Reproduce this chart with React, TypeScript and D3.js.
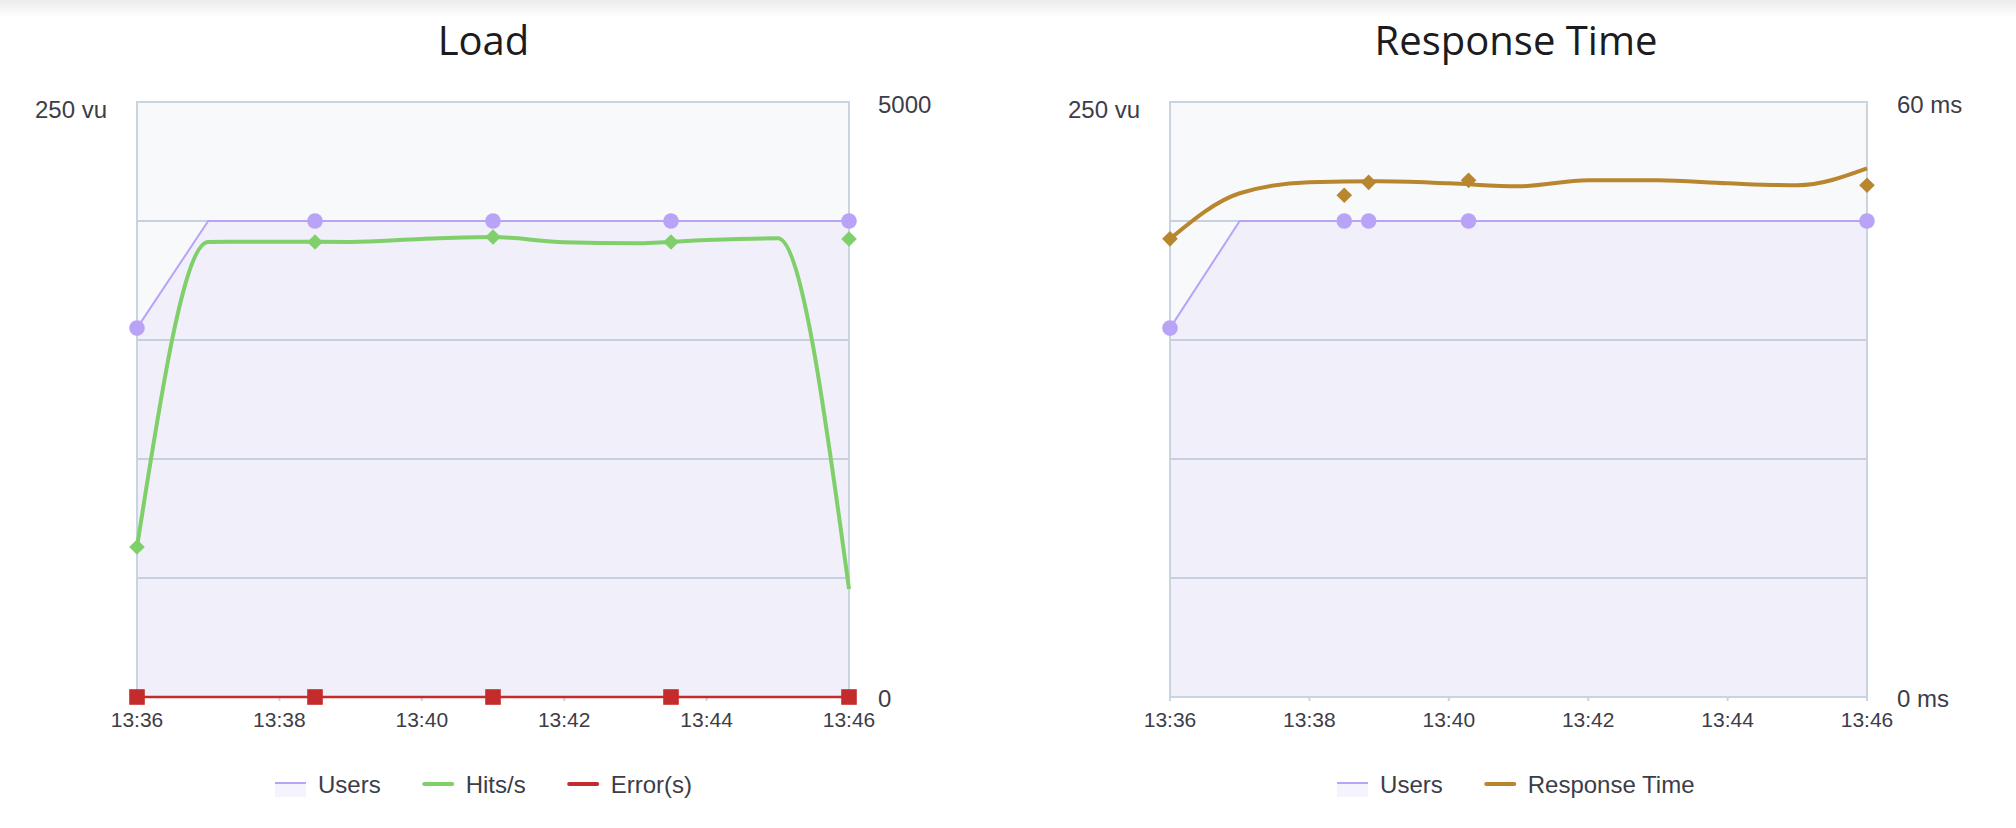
import React from 'react';
import * as d3 from 'd3';

// ---------- DATA ----------
const minuteTimes = ["13:36", "13:37", "13:38", "13:39", "13:40", "13:41", "13:42", "13:43", "13:44", "13:45", "13:46"];
const usersPerMinute = [155, 200, 200, 200, 200, 200, 200, 200, 200, 200, 200];
const hitsPerMinute = [1260, 3824, 3826, 3824, 3849, 3866, 3821, 3812, 3840, 3854, 907];
const errorsPerMinute = [0, 0, 0, 0, 0, 0, 0, 0, 0, 0, 0];
const responsePerMinute = [46.2, 50.8, 51.9, 52.0, 51.8, 51.5, 52.1, 52.1, 51.8, 51.6, 53.3];

const loadMarkerTimes = ["13:36:00", "13:38:30", "13:41:00", "13:43:30", "13:46:00"];
const loadUsersMarkers = [155, 200, 200, 200, 200];
const loadHitsMarkers = [1260, 3824, 3866, 3824, 3849];
const loadErrorMarkers = [0, 0, 0, 0, 0];

const rtMarkerTimes = ["13:36:00", "13:38:30", "13:38:51", "13:40:17", "13:46:00"];
const rtUsersMarkers = [155, 200, 200, 200, 200];
const rtResponseMarkers = [46.2, 50.6, 51.9, 52.1, 51.6];

const xTickLabels = ["13:36", "13:38", "13:40", "13:42", "13:44", "13:46"];
const usersAxisMax = 250;
const hitsAxisMax = 5000;
const responseAxisMax = 60;

// ---------- STYLE ----------
const W = 2016;
const H = 828;
const TOP = 102;
const BOTTOM = 697;
const TEXT = '#3d3d47';
const BORDER = '#c8d4e0';
const GRID = '#c6d0e1';
const PLOT_BG = '#f8f9fb';
const USERS_FILL = '#f1effa';
const USERS_COLOR = '#b9a3f7';
const HITS_COLOR = '#7fcf6b';
const ERR_COLOR = '#c42b2b';
const RT_COLOR = '#b8862e';
const FONT = "'Liberation Sans', Arial, sans-serif";
const TITLE_FONT = "'Open Sans', 'Noto Sans', sans-serif";

const parseMin = d3.timeParse('%H:%M');
const parseSec = d3.timeParse('%H:%M:%S');

function measure(text: string, font: string): number {
  const c = document.createElement('canvas').getContext('2d');
  if (!c) return text.length * 12;
  c.font = font;
  return c.measureText(text).width;
}

type LegendItem = { label: string; color: string; width: number; area?: boolean };

function Legend({ cx, items }: { cx: number; items: LegendItem[] }) {
  const font = `24px ${FONT}`;
  const sw = 31;
  const gap = 12;
  const spacing = 42;
  const widths = items.map((it) => sw + gap + measure(it.label, font));
  const total = d3.sum(widths) + spacing * (items.length - 1);
  let x = cx - total / 2;
  const y = 784;
  return (
    <g>
      {items.map((it, i) => {
        const x0 = x;
        x += widths[i] + spacing;
        return (
          <g key={it.label}>
            {it.area && <rect x={x0} y={y - 1} width={sw} height={14} fill="#f5f3fd" />}
            <line
              x1={x0 + (it.area ? 0 : 1.5)}
              x2={x0 + sw - (it.area ? 0 : 1.5)}
              y1={it.area ? y - 1 : y}
              y2={it.area ? y - 1 : y}
              stroke={it.color}
              strokeWidth={it.width}
              strokeLinecap={it.area ? 'butt' : 'round'}
            />
            <text x={x0 + sw + gap} y={793} fontFamily={FONT} fontSize={24} fill={TEXT}>
              {it.label}
            </text>
          </g>
        );
      })}
    </g>
  );
}

function diamondPath(cx: number, cy: number, r: number) {
  return `M${cx},${cy - r}L${cx + r},${cy}L${cx},${cy + r}L${cx - r},${cy}Z`;
}

function PlotFrame({
  x,
  yUsers,
  left,
  right,
}: {
  x: d3.ScaleTime<number, number>;
  yUsers: d3.ScaleLinear<number, number>;
  left: number;
  right: number;
}) {
  const minutes = minuteTimes.map((t) => parseMin(t) as Date);
  const area = d3
    .area<number>()
    .x((_, i) => x(minutes[i]))
    .y0(BOTTOM)
    .y1((d) => yUsers(d));
  const gridVals = d3.range(0, usersAxisMax + 1, 50);
  const ticks = xTickLabels.map((t) => parseMin(t) as Date);
  return (
    <g>
      <rect x={left} y={TOP} width={right - left} height={BOTTOM - TOP} fill={PLOT_BG} />
      <path d={area(usersPerMinute) || ''} fill={USERS_FILL} />
      {gridVals.map((v) => (
        <line key={v} x1={left} x2={right} y1={yUsers(v)} y2={yUsers(v)} stroke={GRID} strokeWidth={2} />
      ))}
      <rect x={left} y={TOP} width={right - left} height={BOTTOM - TOP} fill="none" stroke={BORDER} strokeWidth={2} />
      {ticks.map((t, i) => (
        <g key={i}>
          <line x1={x(t)} x2={x(t)} y1={BOTTOM} y2={BOTTOM + 4} stroke={BORDER} strokeWidth={2} />
          <text x={x(t)} y={727} textAnchor="middle" fontFamily={FONT} fontSize={21} fill={TEXT}>
            {xTickLabels[i]}
          </text>
        </g>
      ))}
    </g>
  );
}

function LoadChart() {
  const left = 137;
  const right = 849;
  const minutes = minuteTimes.map((t) => parseMin(t) as Date);
  const x = d3.scaleTime().domain([minutes[0], minutes[minutes.length - 1]]).range([left, right]);
  const yUsers = d3.scaleLinear().domain([0, usersAxisMax]).range([BOTTOM, TOP]);
  const yHits = d3.scaleLinear().domain([0, hitsAxisMax]).range([BOTTOM, TOP]);
  const usersLine = d3.line<number>().x((_, i) => x(minutes[i])).y((d) => yUsers(d));
  const hitsLine = d3.line<number>().x((_, i) => x(minutes[i])).y((d) => yHits(d)).curve(d3.curveMonotoneX);
  const errLine = d3.line<number>().x((_, i) => x(minutes[i])).y((d) => yHits(d));
  const mt = loadMarkerTimes.map((t) => parseSec(t) as Date);
  const cx = 483.5;
  return (
    <g>
      <text x={cx} y={55} textAnchor="middle" fontFamily={TITLE_FONT} fontSize={40} fill="#1b1b20">
        Load
      </text>
      <PlotFrame x={x} yUsers={yUsers} left={left} right={right} />
      <text x={left - 30} y={118} textAnchor="end" fontFamily={FONT} fontSize={24} fill={TEXT}>
        {`${usersAxisMax} vu`}
      </text>
      <text x={right + 29} y={113} fontFamily={FONT} fontSize={24} fill={TEXT}>
        {`${hitsAxisMax}`}
      </text>
      <text x={right + 29} y={707} fontFamily={FONT} fontSize={24} fill={TEXT}>
        0
      </text>
      <path d={usersLine(usersPerMinute) || ''} fill="none" stroke={USERS_COLOR} strokeWidth={2} />
      <path d={hitsLine(hitsPerMinute) || ''} fill="none" stroke={HITS_COLOR} strokeWidth={4} />
      <path d={errLine(errorsPerMinute) || ''} fill="none" stroke={ERR_COLOR} strokeWidth={2.5} />
      {mt.map((t, i) => (
        <circle key={'u' + i} cx={x(t)} cy={yUsers(loadUsersMarkers[i])} r={7.8} fill={USERS_COLOR} />
      ))}
      {mt.map((t, i) => (
        <path key={'h' + i} d={diamondPath(x(t), yHits(loadHitsMarkers[i]), 7.8)} fill={HITS_COLOR} />
      ))}
      {mt.map((t, i) => (
        <rect key={'e' + i} x={x(t) - 7.8} y={yHits(loadErrorMarkers[i]) - 7.8} width={15.6} height={15.6} fill={ERR_COLOR} />
      ))}
      <Legend
        cx={cx}
        items={[
          { label: 'Users', color: USERS_COLOR, width: 2, area: true },
          { label: 'Hits/s', color: HITS_COLOR, width: 4 },
          { label: 'Error(s)', color: ERR_COLOR, width: 4 },
        ]}
      />
    </g>
  );
}

function ResponseChart() {
  const left = 1170;
  const right = 1867;
  const minutes = minuteTimes.map((t) => parseMin(t) as Date);
  const x = d3.scaleTime().domain([minutes[0], minutes[minutes.length - 1]]).range([left, right]);
  const yUsers = d3.scaleLinear().domain([0, usersAxisMax]).range([BOTTOM, TOP]);
  const yRt = d3.scaleLinear().domain([0, responseAxisMax]).range([BOTTOM, TOP]);
  const usersLine = d3.line<number>().x((_, i) => x(minutes[i])).y((d) => yUsers(d));
  const rtLine = d3.line<number>().x((_, i) => x(minutes[i])).y((d) => yRt(d)).curve(d3.curveMonotoneX);
  const mt = rtMarkerTimes.map((t) => parseSec(t) as Date);
  const cx = 1516;
  return (
    <g>
      <text x={cx} y={55} textAnchor="middle" fontFamily={TITLE_FONT} fontSize={40} fill="#1b1b20">
        Response Time
      </text>
      <PlotFrame x={x} yUsers={yUsers} left={left} right={right} />
      <text x={left - 30} y={118} textAnchor="end" fontFamily={FONT} fontSize={24} fill={TEXT}>
        {`${usersAxisMax} vu`}
      </text>
      <text x={right + 30} y={113} fontFamily={FONT} fontSize={24} fill={TEXT}>
        {`${responseAxisMax} ms`}
      </text>
      <text x={right + 30} y={707} fontFamily={FONT} fontSize={24} fill={TEXT}>
        0 ms
      </text>
      <path d={usersLine(usersPerMinute) || ''} fill="none" stroke={USERS_COLOR} strokeWidth={2} />
      <path d={rtLine(responsePerMinute) || ''} fill="none" stroke={RT_COLOR} strokeWidth={4} />
      {mt.map((t, i) => (
        <circle key={'u' + i} cx={x(t)} cy={yUsers(rtUsersMarkers[i])} r={7.8} fill={USERS_COLOR} />
      ))}
      {mt.map((t, i) => (
        <path key={'r' + i} d={diamondPath(x(t), yRt(rtResponseMarkers[i]), 7.8)} fill={RT_COLOR} />
      ))}
      <Legend
        cx={cx}
        items={[
          { label: 'Users', color: USERS_COLOR, width: 2, area: true },
          { label: 'Response Time', color: RT_COLOR, width: 4 },
        ]}
      />
    </g>
  );
}

export default function App() {
  return (
    <svg
      width={W}
      height={H}
      viewBox={`0 0 ${W} ${H}`}
      style={{ position: 'absolute', left: 0, top: 0, background: '#ffffff' }}
    >
      <defs>
        <linearGradient id="topShade" x1="0" y1="0" x2="0" y2="1">
          <stop offset="0" stopColor="#ececec" />
          <stop offset="1" stopColor="#ffffff" />
        </linearGradient>
      </defs>
      <rect x={0} y={0} width={W} height={H} fill="#ffffff" />
      <rect x={0} y={0} width={W} height={18} fill="url(#topShade)" />
      <LoadChart />
      <ResponseChart />
    </svg>
  );
}
